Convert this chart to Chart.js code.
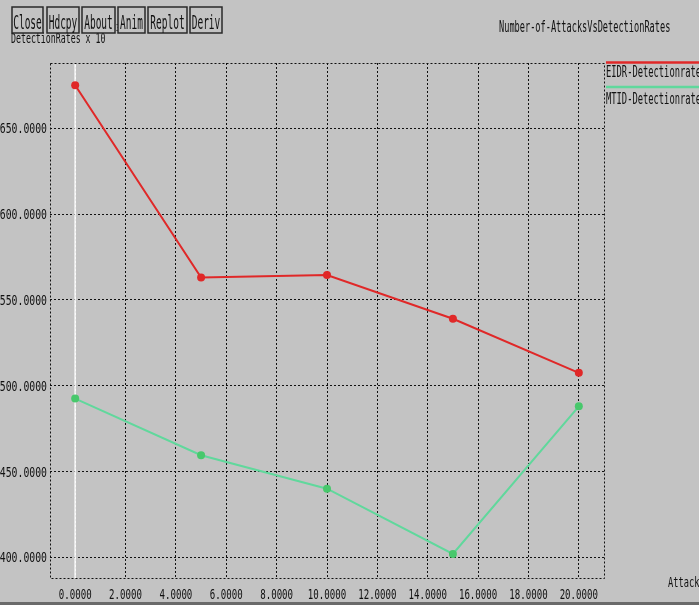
<!DOCTYPE html>
<html>
<head>
<meta charset="utf-8">
<script src="https://cdn.jsdelivr.net/npm/chart.js@4.4.1/dist/chart.umd.min.js"></script>
<style>
  body { margin: 0; background: #c3c3c3; overflow: hidden; }
  #plot { display: block; }
</style>
</head>
<body>
<canvas id="plot" width="699" height="605"></canvas>
<script>
// number of attacks (x) and detection rates (x 10^-3)
const attacks = [0, 5, 10, 15, 20];
const eidrRates = [675, 563, 564.5, 539, 507.5];
const mtidRates = [492.5, 459.5, 440, 402, 488];

const xTicks = [0, 2, 4, 6, 8, 10, 12, 14, 16, 18, 20];
const xTickLabels = ['0.0000', '2.0000', '4.0000', '6.0000', '8.0000', '10.0000',
                     '12.0000', '14.0000', '16.0000', '18.0000', '20.0000'];
const yTicks = [400, 450, 500, 550, 600, 650];
const yTickLabels = ['400.0000', '450.0000', '500.0000', '550.0000', '600.0000', '650.0000'];

const seriesNames = ['EIDR-Detectionrate', 'MTID-Detectionrate'];
const buttons = ['Close', 'Hdcpy', 'About', 'Anim', 'Replot', 'Deriv'];

const BG = '#c3c3c3';
const RED = '#e02828';
const GREEN = '#60d89c';

// narrow fixed-width text, like the old X fonts
function xText(ctx, str, x, y, align, size, sx) {
    ctx.save();
    ctx.font = size + 'px "DejaVu Sans Mono"';
    ctx.textAlign = 'left';
    ctx.textBaseline = 'alphabetic';
    const w = ctx.measureText(str).width * sx;
    let left = x;
    if (align === 'right') left = x - w;
    if (align === 'center') left = x - w / 2;
    ctx.translate(left, y);
    ctx.scale(sx, 1);
    ctx.fillStyle = '#111';
    ctx.fillText(str, 0, 0);
    ctx.restore();
}

const xgraphDecor = {
    id: 'xgraphDecor',
    beforeDraw(chart) {
        const ctx = chart.ctx;
        ctx.save();
        ctx.fillStyle = BG;
        ctx.fillRect(0, 0, chart.width, chart.height);
        ctx.restore();
    },
    beforeDatasetsDraw(chart) {
        const ctx = chart.ctx;
        const a = chart.chartArea;
        const x0 = chart.scales.x.getPixelForValue(0);
        ctx.save();
        // white zero line
        ctx.strokeStyle = '#ffffff';
        ctx.lineWidth = 1.5;
        ctx.beginPath();
        ctx.moveTo(x0, a.top);
        ctx.lineTo(x0, a.bottom);
        ctx.stroke();
        // dotted frame
        ctx.strokeStyle = '#111';
        ctx.lineWidth = 1;
        ctx.setLineDash([2, 2]);
        ctx.strokeRect(a.left + 0.5, a.top + 0.5, a.right - a.left, a.bottom - a.top);
        ctx.restore();
    },
    afterDraw(chart) {
        const ctx = chart.ctx;
        const xs = chart.scales.x;
        const ys = chart.scales.y;
        const a = chart.chartArea;

        // tick labels
        xTicks.forEach((v, i) => xText(ctx, xTickLabels[i], xs.getPixelForValue(v), 599, 'center', 14, 0.65));
        yTicks.forEach((v, i) => xText(ctx, yTickLabels[i], 47, ys.getPixelForValue(v) + 5, 'right', 14, 0.7));

        // axis labels and title
        xText(ctx, 'DetectionRates x 10', 11, 43, 'left', 14, 0.59);
        xText(ctx, '3', 116, 31, 'left', 9, 0.7);
        xText(ctx, 'Number-of-AttacksVsDetectionRates', 499, 32, 'left', 15, 0.575);
        xText(ctx, 'Attack', 668, 587, 'left', 14, 0.62);

        // legend
        const legendColors = [RED, GREEN];
        const lineY = [62.5, 87];
        const textY = [77, 104];
        seriesNames.forEach((name, i) => {
            ctx.save();
            ctx.strokeStyle = legendColors[i];
            ctx.lineWidth = 2.5;
            ctx.beginPath();
            ctx.moveTo(a.right + 2, lineY[i]);
            ctx.lineTo(chart.width, lineY[i]);
            ctx.stroke();
            ctx.restore();
            xText(ctx, name, a.right + 2, textY[i], 'left', 15, 0.585);
        });

        // buttons
        const bx = [[12, 43], [47, 79], [82, 115], [118, 145], [148, 187], [190, 222]];
        buttons.forEach((label, i) => {
            const [l, r] = bx[i];
            ctx.save();
            ctx.fillStyle = BG;
            ctx.fillRect(l, 7, r - l, 26);
            ctx.strokeStyle = '#2a2a2a';
            ctx.lineWidth = 1.5;
            ctx.strokeRect(l, 7, r - l, 26);
            ctx.restore();
            xText(ctx, label, (l + r) / 2, 29, 'center', 19, 0.5);
        });

        // window bottom edge
        ctx.save();
        ctx.fillStyle = '#6a6a6a';
        ctx.fillRect(0, 602, chart.width, 3);
        ctx.restore();
    }
};

const ctx = document.getElementById('plot');
new Chart(ctx, {
    type: 'line',
    data: {
        datasets: [{
            label: seriesNames[0],
            data: attacks.map((x, i) => ({ x: x, y: eidrRates[i] })),
            borderColor: RED,
            backgroundColor: RED,
            borderWidth: 2,
            pointRadius: 4,
            pointBorderWidth: 0,
            tension: 0
        }, {
            label: seriesNames[1],
            data: attacks.map((x, i) => ({ x: x, y: mtidRates[i] })),
            borderColor: GREEN,
            backgroundColor: '#48c86c',
            borderWidth: 2,
            pointRadius: 4,
            pointBorderWidth: 0,
            tension: 0
        }]
    },
    options: {
        responsive: false,
        animation: false,
        events: [],
        layout: { padding: { left: 50, right: 95, top: 63, bottom: 27 } },
        plugins: { legend: { display: false }, tooltip: { enabled: false } },
        scales: {
            x: {
                type: 'linear',
                min: -1,
                max: 21,
                afterBuildTicks: s => { s.ticks = xTicks.map(v => ({ value: v })); },
                ticks: { display: false },
                grid: { color: '#111', lineWidth: 1, drawTicks: false },
                border: { display: false, dash: [2, 2] }
            },
            y: {
                type: 'linear',
                min: 388,
                max: 688,
                afterBuildTicks: s => { s.ticks = yTicks.map(v => ({ value: v })); },
                ticks: { display: false },
                grid: { color: '#111', lineWidth: 1, drawTicks: false },
                border: { display: false, dash: [2, 2] }
            }
        }
    },
    plugins: [xgraphDecor]
});
</script>
</body>
</html>
